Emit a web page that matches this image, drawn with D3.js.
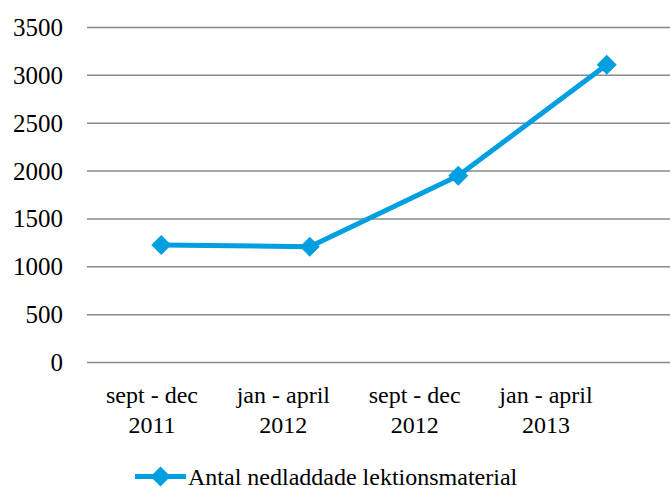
<!DOCTYPE html>
<html>
<head>
<meta charset="utf-8">
<script src="https://cdn.jsdelivr.net/npm/d3@7"></script>
<style>
  html, body { margin: 0; padding: 0; background: #fff; }
  svg { display: block; }
  .lbl { font-family: "Liberation Serif"; }
</style>
</head>
<body>
<svg id="chart" width="670" height="488"></svg>
<script>
const categories = [["sept - dec", "2011"], ["jan - april", "2012"], ["sept - dec", "2012"], ["jan - april", "2013"]];
const values = [1227, 1210, 1951, 3112];
const yTicks = [0, 500, 1000, 1500, 2000, 2500, 3000, 3500];
const seriesName = "Antal nedladdade lektionsmaterial";

const color = "#009fdf";
const svg = d3.select("#chart");
const keys = categories.map((c, i) => i);

const x = d3.scaleBand().domain(keys).range([87, 681]);
const xLab = d3.scalePoint().domain(keys).range([152, 546]);
const y = d3.scaleLinear().domain([0, 3500]).range([362.5, 27.5]);

// gridlines
svg.append("g").selectAll("line").data(yTicks).join("line")
  .attr("x1", 87).attr("x2", 670)
  .attr("y1", d => y(d)).attr("y2", d => y(d))
  .attr("stroke", "#8a8a8a").attr("stroke-width", 1.5);

// line
const line = d3.line().x((d, i) => x(i) + x.bandwidth() / 2).y(d => y(d));
svg.append("path").datum(values)
  .attr("d", line).attr("fill", "none")
  .attr("stroke", color).attr("stroke-width", 5).attr("stroke-linejoin", "round");

const diamond = d3.symbol().type(d3.symbolSquare).size(200);
svg.append("g").selectAll("path").data(values).join("path")
  .attr("d", diamond())
  .attr("transform", (d, i) => `translate(${x(i) + x.bandwidth() / 2},${y(d)}) rotate(45)`)
  .attr("fill", color);

// legend marks
svg.append("line").attr("x1", 135).attr("x2", 186).attr("y1", 476.5).attr("y2", 476.5)
  .attr("stroke", color).attr("stroke-width", 5);
svg.append("path").attr("d", diamond())
  .attr("transform", "translate(160.5,476.5) rotate(45)").attr("fill", color);

// y labels
yTicks.forEach(t => {
  svg.append("text").attr("class", "lbl").attr("x", 63).attr("y", y(t) + 8.5)
    .attr("text-anchor", "end").attr("font-size", 25).text(t);
});

// x labels
categories.forEach((c, i) => {
  svg.append("text").attr("class", "lbl").attr("x", xLab(i)).attr("y", 403)
    .attr("text-anchor", "middle").attr("font-size", 24).text(c[0]);
  svg.append("text").attr("class", "lbl").attr("x", xLab(i)).attr("y", 432.5)
    .attr("text-anchor", "middle").attr("font-size", 24).text(c[1]);
});

svg.append("text").attr("class", "lbl").attr("x", 188).attr("y", 484.5).attr("font-size", 24).text(seriesName);
</script>
</body>
</html>
